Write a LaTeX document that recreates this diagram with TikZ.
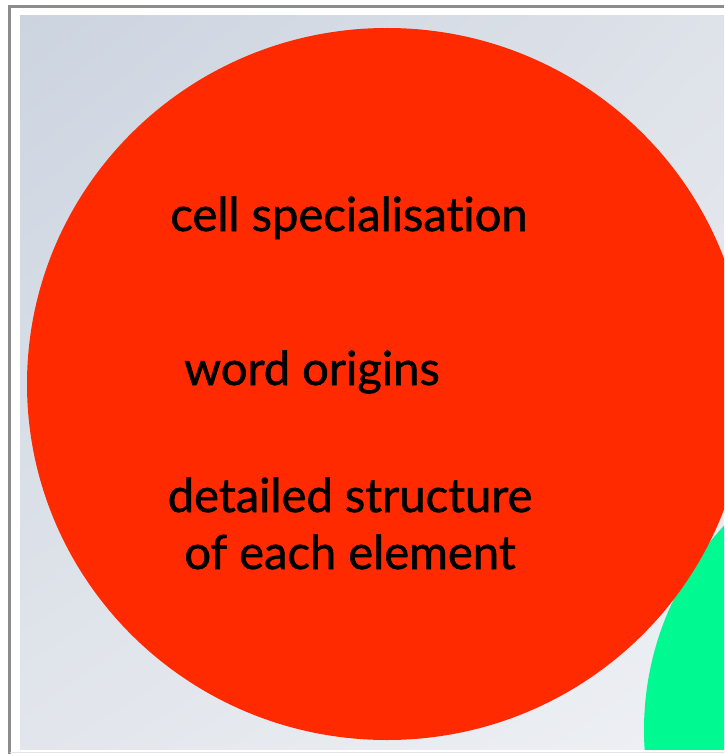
\documentclass[tikz,border=0pt]{standalone}
\usepackage{fontspec}
\setmainfont{Lato}[Ligatures=NoCommon, FakeBold=1.2]
\usepackage{tikz}
\usetikzlibrary{positioning, shadings}
\definecolor{slidered}{RGB}{255,42,0}
\definecolor{slidegreen}{RGB}{0,250,145}
\definecolor{bgtl}{RGB}{204,212,224}
\definecolor{bgtr}{RGB}{222,226,233}
\definecolor{bgbl}{RGB}{226,230,236}
\definecolor{bgbr}{RGB}{238,240,244}
\tikzset{topic/.style={
    inner sep=0pt,
    anchor=base,
    text=black,
    align=center,
    font=\fontsize{33.5}{40.5}\selectfont
}}

\begin{document}
\begin{tikzpicture}[x=0.025cm, y=-0.025cm]
    \useasboundingbox (0,0) rectangle (724,754);
    \fill [white] (0,0) rectangle (724,754);
    % frame of the slide
    \draw [black!45, line width=1.5pt] (9.5,754) |- (724,6.5);
    \draw [black!10, line width=0.6pt] (9.5,752.5) -- (724,752.5);
    \begin{scope}
        \clip (20,16) rectangle (724,749);
        \shade [upper left=bgtl, upper right=bgtr, lower left=bgbl, lower right=bgbr]
            (20,16) rectangle (724,749);
        \fill [slidegreen] (945,730) circle [radius=301];
        \fill [slidered] (387,384) ellipse [x radius=360, y radius=356];
    \end{scope}
    % texts in the red circle (base = last line)
    \node (cell)    [topic] at (349,231) {cell specialisation};
    \node (word)    [topic] at (312,385) {word origins};
    \node (element) [topic] at (350,569) {detailed structure\\of each element};
\end{tikzpicture}
\end{document}
